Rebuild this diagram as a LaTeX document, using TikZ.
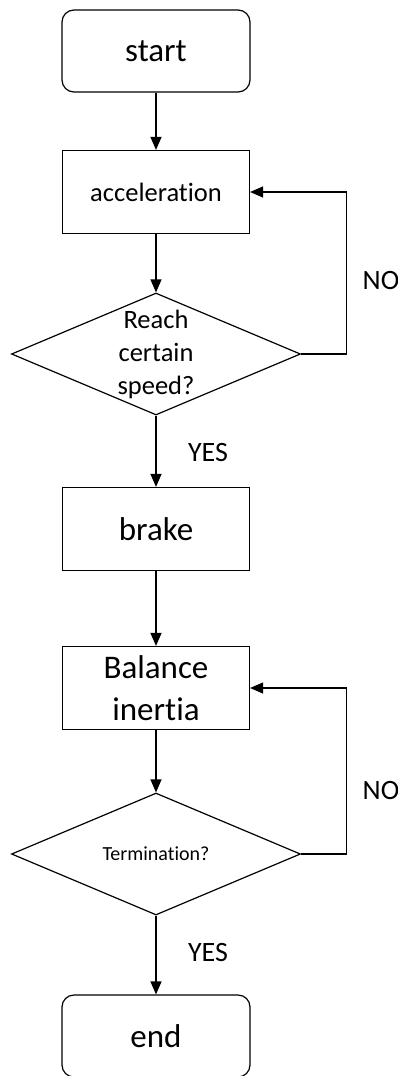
\documentclass[tikz,border=0pt]{standalone}
\usepackage{fontspec}
\setmainfont[Ligatures=NoCommon]{Carlito}
\usepackage{tikz}
\usetikzlibrary{arrows.meta,shapes.geometric}

\tikzset{
 terminal/.style={draw, rounded corners=12pt, minimum width=188pt, minimum height=82pt, line width=1.2pt, font=\fontsize{33}{40}\selectfont},
 process/.style={draw, minimum width=187pt, minimum height=83pt, line width=1.2pt, align=center},
 decision/.style={draw, diamond, minimum width=289pt, minimum height=122pt, inner sep=0pt, line width=1.2pt},
 flow/.style={-{Triangle[length=13pt, width=11pt]}, line width=1.2pt},
 answer/.style={font=\fontsize{28}{30}\selectfont}
}

\begin{document}
\begin{tikzpicture}[x=1pt, y=-1pt]
 \useasboundingbox (0,0) rectangle (398,1076);

 \node [terminal] (start) at (156,51) {start};
 \node [process, font=\fontsize{26.5}{33}\selectfont] (accel) at (156,192) {acceleration};
 \node [decision, label={[align=center, font=\fontsize{26.5}{33}\selectfont]center:Reach\\certain\\speed?}] (speed) at (156,354) {};
 \node [process, font=\fontsize{33}{42}\selectfont] (brake) at (156,529) {brake};
 \node [process, font=\fontsize{33}{42}\selectfont] (balance) at (156,688) {Balance\\inertia};
 \node [decision, label={[font=\fontsize{20}{24}\selectfont]center:Termination?}] (term) at (156,854) {};
 \node [terminal] (end) at (156,1036) {end};

 \node [answer] (yes1) at (208,453) {YES};
 \node [answer] (no1) at (381,281) {NO};
 \node [answer] (no2) at (381,790) {NO};
 \node [answer] (yes2) at (208,952) {YES};

 \draw [flow] (start) -- (accel);
 \draw [flow] (accel) -- (speed);
 \draw [flow] (speed) -- (brake);
 \draw [flow] (speed.east) -- ++(45,0) |- (accel.east);
 \draw [flow] (brake) -- (balance);
 \draw [flow] (balance) -- (term);
 \draw [flow] (term.east) -- ++(45,0) |- (balance.east);
 \draw [flow] (term) -- (end);
\end{tikzpicture}
\end{document}
